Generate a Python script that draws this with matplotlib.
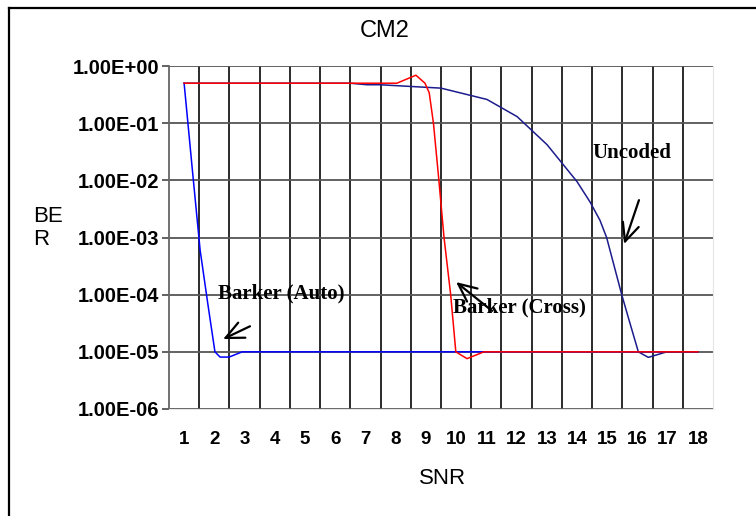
import matplotlib
matplotlib.use("Agg")
import matplotlib.pyplot as plt
from matplotlib.lines import Line2D
from matplotlib.ticker import FixedLocator, NullFormatter

# curves (SNR, BER)
auto_snr = [1.0, 1.26, 1.53, 1.79, 2.02, 2.19, 2.49, 2.92, 18.0]
auto_ber = [0.5, 1.8e-2, 6.0e-4, 6.6e-5, 1.0e-5, 8.1e-6, 8.1e-6, 1.0e-5, 1.0e-5]

cross_snr = [1.0, 8.04, 8.67, 8.97, 9.11, 9.25, 9.43, 9.6, 9.82, 9.99, 10.36, 10.92, 18.0]
cross_ber = [0.5, 0.5, 0.69, 0.5, 0.34, 0.1, 1e-2, 1e-3, 1e-4, 1e-5, 7.6e-6, 1e-5, 1e-5]

unc_snr = [1.0, 6.49, 7.05, 7.48, 9.5, 11.02, 12.02, 13.01, 14.0, 14.43, 14.76,
           14.98, 15.48, 15.75, 16.03, 16.36, 16.97, 18.0]
unc_ber = [0.5, 0.5, 0.47, 0.47, 0.41, 0.26, 0.13, 4.2e-2, 9.5e-3, 4.2e-3, 2.0e-3,
           1.0e-3, 1.0e-4, 3.2e-5, 1.0e-5, 8.0e-6, 1.0e-5, 1.0e-5]

snr_ticks = list(range(1, 19))
ber_ticks = [1e0, 1e-1, 1e-2, 1e-3, 1e-4, 1e-5, 1e-6]
ber_labels = ["1.00E+00", "1.00E-01", "1.00E-02", "1.00E-03", "1.00E-04", "1.00E-05", "1.00E-06"]

sans = "Liberation Sans"
serif = "Liberation Serif"

fig = plt.figure(figsize=(7.56, 5.16), dpi=100)
ax = fig.add_axes([169 / 756, 1 - 409 / 516, 544 / 756, 343 / 516])

ax.plot(auto_snr, auto_ber, color="#0000FF", lw=1.1, zorder=3)
ax.plot(unc_snr, unc_ber, color="#1C1C8C", lw=1.1, zorder=3)
ax.plot(cross_snr, cross_ber, color="#FF0000", lw=1.1, zorder=4)

ax.set_yscale("log")
ax.set_ylim(1e-6, 1e0)
ax.set_xlim(0.5, 18.5)

ax.set_xticks(snr_ticks)
ax.set_xticklabels([str(t) for t in snr_ticks], fontfamily=sans, fontweight="bold", fontsize=13.5)
ax.xaxis.set_minor_locator(FixedLocator([t + 0.5 for t in snr_ticks[:-1]]))
ax.xaxis.set_minor_formatter(NullFormatter())
ax.tick_params(axis="x", which="both", length=0, pad=16)
ax.grid(True, axis="x", which="minor", color="#1a1a1a", lw=1.3)

ax.yaxis.set_minor_locator(FixedLocator([]))
ax.set_yticks(ber_ticks)
ax.set_yticklabels(ber_labels, fontfamily=sans, fontweight="bold", fontsize=14.5)
ax.tick_params(axis="y", length=5, width=1.3, color="#555555", pad=2)
ax.grid(True, axis="y", which="major", color="#555555", lw=1.3)

ax.spines["top"].set_visible(False)
ax.spines["left"].set_color("#666666")
ax.spines["left"].set_linewidth(1.3)
ax.spines["right"].set_color("#e6e6e6")
ax.spines["bottom"].set_color("#e6e6e6")

arrow = dict(arrowstyle="->,head_length=1.3,head_width=0.6", lw=1.6, color="black",
             shrinkA=0, shrinkB=0)
ann_font = dict(fontfamily=serif, fontweight="bold", fontsize=15, ha="center", va="center")
ax.text(15.82, 3.0e-2, "Uncoded", zorder=6, **ann_font)
ax.annotate("", xy=(15.56, 7.7e-4), xytext=(16.05, 4.5e-3), arrowprops=arrow, zorder=6)
ax.text(4.21, 1.07e-4, "Barker (Auto)", zorder=6, **ann_font)
ax.annotate("", xy=(2.29, 1.67e-5), xytext=(3.18, 2.8e-5), arrowprops=arrow, zorder=6)
ax.text(12.08, 6.0e-5, "Barker (Cross)", zorder=6, **ann_font)
ax.annotate("", xy=(10.0, 1.66e-4), xytext=(11.19, 5.2e-5), arrowprops=arrow, zorder=6)

fig.text(385 / 756, 1 - 31 / 516, "CM2", ha="center", va="center", fontfamily=sans, fontsize=17)
fig.text(33 / 756, 1 - 228 / 516, "BE\nR", ha="left", va="center", fontfamily=sans,
         fontsize=16, linespacing=1.1)
fig.text(443 / 756, 1 - 478 / 516, "SNR", ha="center", va="center", fontfamily=sans, fontsize=16)

# outer frame: only the top and left edges show in the original
fig.add_artist(Line2D([9 / 756, 1], [1 - 8 / 516, 1 - 8 / 516], transform=fig.transFigure,
                      color="black", lw=1.6))
fig.add_artist(Line2D([9 / 756, 9 / 756], [0, 1 - 8 / 516], transform=fig.transFigure,
                      color="black", lw=1.6))

fig.savefig("out.png", dpi=100)
